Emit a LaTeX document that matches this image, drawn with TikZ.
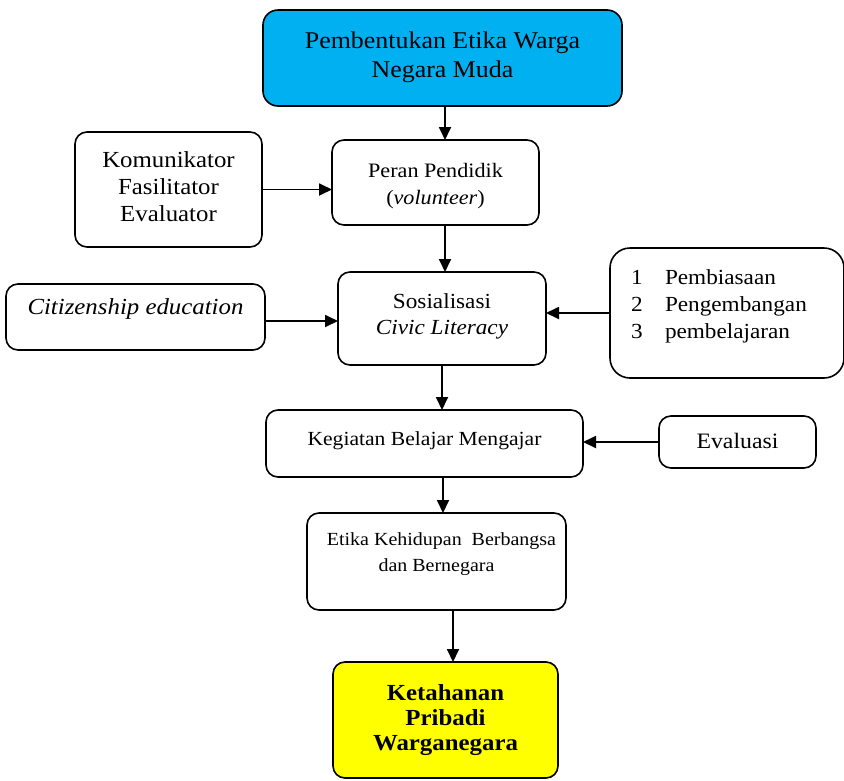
\documentclass[tikz,border=0pt]{standalone}
\usepackage{fontspec}
\setmainfont{Liberation Serif}[FakeStretch=1.08]
\usetikzlibrary{arrows.meta}
\definecolor{topblue}{RGB}{0,176,240}
\definecolor{kyellow}{RGB}{255,255,0}
% width, height, top pad, font size, baselineskip, content
\newcommand{\bxt}[6]{\begin{minipage}[c][#2pt][t]{#1pt}\vspace*{#3pt}\centering\fontsize{#4pt}{#5pt}\selectfont\strut #6\end{minipage}}
\newcommand{\bxl}[6]{\begin{minipage}[c][#2pt][t]{#1pt}\vspace*{#3pt}\raggedright\fontsize{#4pt}{#5pt}\selectfont\strut #6\end{minipage}}
\newcommand{\itm}[2]{\hspace*{21pt}\makebox[34pt][l]{#1}#2}
\tikzset{
  box/.style={draw, line width=1.6pt, rounded corners=12pt, inner sep=0pt, outer sep=0pt},
  arr/.style={line width=1.8pt, -{Triangle[length=13pt,width=12pt]}}
}
\begin{document}
\begin{tikzpicture}[x=1pt,y=-1pt]
\useasboundingbox (0,0) rectangle (844,780);
\node[box, fill=topblue, rounded corners=15pt] (top) at (442.5,58) {\bxt{359}{96}{18.2}{24}{29}{Pembentukan Etika Warga\\Negara Muda}};
\node[box] (kom) at (168.5,189.5) {\bxt{187}{115}{16.1}{23}{27}{Komunikator\\Fasilitator\\Evaluator}};
\node[box] (peran) at (435.5,182.5) {\bxt{207}{85}{18.1}{20.5}{27}{Peran Pendidik\\(\textit{volunteer})}};
\node[box] (sos) at (442,318.5) {\bxt{208}{93}{17.8}{21.5}{26}{Sosialisasi\\\textit{Civic Literacy}}};
\node[box] (cit) at (135.5,317) {\bxt{259}{66}{11.8}{23}{26}{\textit{Citizenship education}}};
\node[box, rounded corners=20pt] (list) at (727,313) {\bxl{234}{130}{17.1}{21.5}{27}{\itm{1}{Pembiasaan}\\\itm{2}{Pengembangan}\\\itm{3}{pembelajaran}}};
\node[box] (keg) at (424.5,443.5) {\bxt{317}{67}{16.8}{20}{26}{Kegiatan Belajar Mengajar}};
\node[box] (eval) at (737.5,442) {\bxt{157}{52}{13.8}{22}{26}{Evaluasi}};
\node[box] (etika) at (436.5,561.5) {\bxt{259}{97}{14.5}{18.5}{26}{\hspace*{10pt}Etika Kehidupan\ \ Berbangsa\\dan Bernegara}};
\node[box, fill=kyellow] (ket) at (445.5,720) {\bxt{225}{116}{21.2}{23}{25}{\textbf{Ketahanan\\Pribadi\\Warganegara}}};
\draw[arr] ([xshift=2.5pt]top.south) -- ([xshift=2.5pt]top.south |- peran.north);
\draw[arr] (kom.east) -- (kom.east -| peran.west);
\draw[arr] ([xshift=9.5pt]peran.south) -- ([xshift=9.5pt]peran.south |- sos.north);
\draw[arr] ([yshift=-4pt]cit.east) -- ([yshift=-4pt]cit.east -| sos.west);
\draw[arr] (list.west) -- (list.west -| sos.east);
\draw[arr] (sos.south) -- (sos.south |- keg.north);
\draw[arr] (eval.west) -- (eval.west -| keg.east);
\draw[arr] ([xshift=18.5pt]keg.south) -- ([xshift=18.5pt]keg.south |- etika.north);
\draw[arr] ([xshift=16.5pt]etika.south) -- ([xshift=16.5pt]etika.south |- ket.north);
\end{tikzpicture}
\end{document}
